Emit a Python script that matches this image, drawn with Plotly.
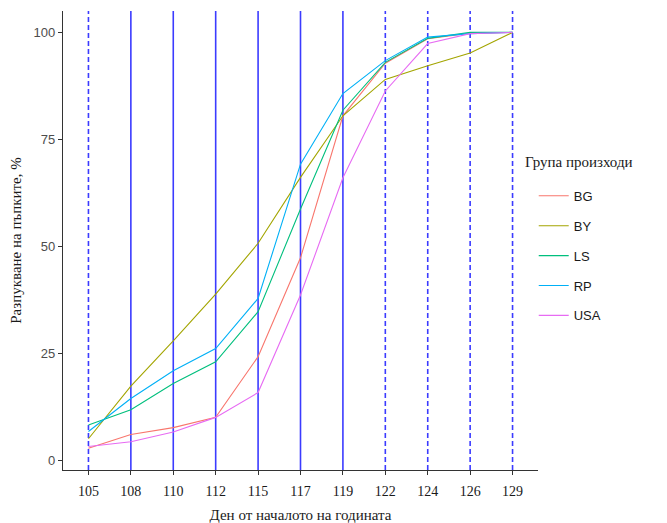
import plotly.graph_objects as go

# Day of year (discrete categories on the x axis)
days = ["105", "108", "110", "112", "115", "117", "119", "122", "124", "126", "129"]

# Bud break, % by provenance group
bg = [2.8, 6.0, 7.6, 10.0, 24.2, 47.3, 80.5, 92.8, 98.5, 99.8, 100]
by = [5.0, 17.3, 27.9, 38.8, 50.7, 66.1, 80.5, 89.0, 92.2, 95.2, 100]
ls = [8.2, 11.8, 17.9, 23.0, 34.7, 58.7, 81.8, 93.0, 98.6, 100, 100]
rp = [6.7, 14.4, 20.9, 26.1, 37.8, 69.2, 85.7, 93.4, 98.9, 99.7, 100]
usa = [3.2, 4.3, 6.6, 10.0, 15.8, 38.6, 66.0, 86.3, 97.4, 99.7, 100]

groups = ["BG", "BY", "LS", "RP", "USA"]
series = [bg, by, ls, rp, usa]
colors = ["#F8766D", "#A3A500", "#00BF7D", "#00B0F6", "#E76BF3"]

# Reference days: dashed at the edges, solid through the main period
dashed_days = ["105", "122", "124", "126", "129"]

fig = go.Figure()

# vertical guides, positioned by category index on the discrete axis
for i, d in enumerate(days):
    fig.add_shape(
        type="line", xref="x", yref="paper", x0=i, x1=i, y0=0, y1=1,
        line=dict(color="#3b3bff", width=1.6,
                  dash="5px,3px" if d in dashed_days else "solid"),
        layer="below",
    )

for name, vals, col in zip(groups, series, colors):
    fig.add_trace(go.Scatter(
        x=days, y=vals, mode="lines", name=name, legendgroup=name,
        line=dict(color=col, width=1.1),
    ))

serif = "Liberation Serif, Times New Roman, serif"
sans = "Liberation Sans, Arial, sans-serif"

fig.add_annotation(
    text="Група произходи", xref="paper", yref="paper",
    x=0.969, y=0.672, xanchor="left", yanchor="middle", showarrow=False,
    font=dict(family=serif, size=15, color="#1a1a1a"),
)

fig.update_layout(
    width=667, height=523,
    margin=dict(l=63, r=129, t=11, b=53, autoexpand=False),
    plot_bgcolor="white", paper_bgcolor="white",
    showlegend=True,
    legend=dict(
        font=dict(family=sans, size=13, color="#1a1a1a"),
        x=0.991, xanchor="left", y=0.63, yanchor="top",
        traceorder="grouped", tracegroupgap=10, itemwidth=30,
        bgcolor="rgba(0,0,0,0)",
    ),
    xaxis=dict(
        type="category", categoryorder="array", categoryarray=days,
        range=[-0.6, 10.6], showgrid=False, zeroline=False,
        showline=True, linecolor="#333333", linewidth=1.2,
        ticks="outside", ticklen=4, tickcolor="#333333",
        ticklabelstandoff=4,
        tickfont=dict(family=serif, size=14, color="#1a1a1a"),
        title=dict(text="Ден от началото на годината", font=dict(family=serif, size=15, color="#1a1a1a"), standoff=13),
    ),
    yaxis=dict(
        range=[-2.3, 105], showgrid=False, zeroline=False,
        tickvals=[0, 25, 50, 75, 100],
        showline=True, linecolor="#333333", linewidth=1.2,
        ticks="outside", ticklen=4, tickcolor="#333333",
        tickfont=dict(family=sans, size=13, color="#4d4d4d"),
        title=dict(text="Разпукване на пъпките, %", font=dict(family=serif, size=15, color="#1a1a1a"), standoff=8),
    ),
)

fig.write_html("out.html")
